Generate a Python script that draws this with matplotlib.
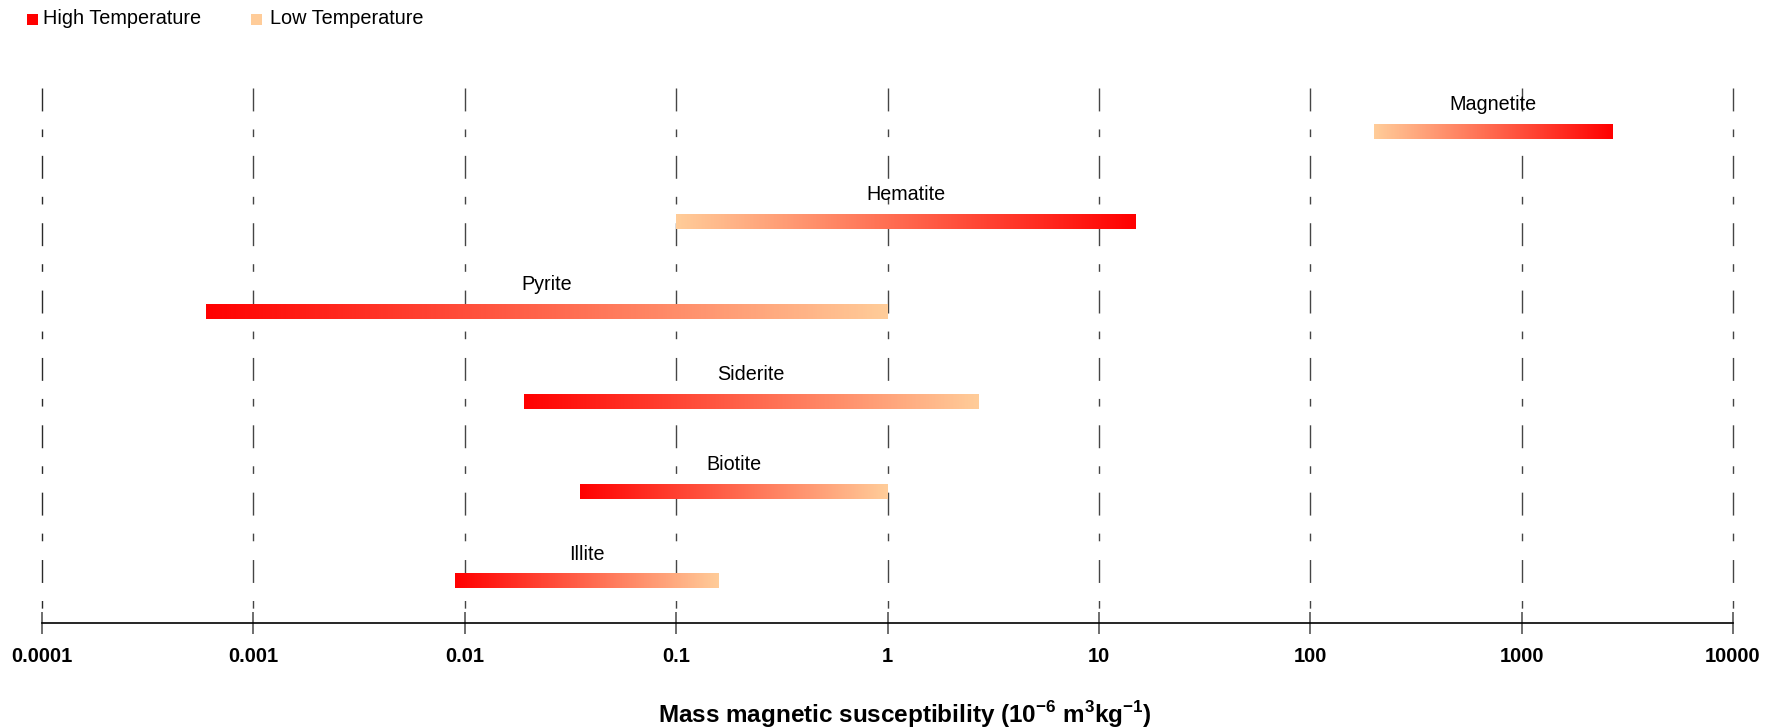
import numpy as np
import matplotlib
matplotlib.use("Agg")
import matplotlib.pyplot as plt
from matplotlib.colors import to_rgb
from matplotlib.patches import Rectangle

plt.rcParams['font.family'] = ['Liberation Sans', 'DejaVu Sans']
plt.rcParams['mathtext.fontset'] = 'custom'
plt.rcParams['mathtext.rm'] = 'Liberation Sans'
plt.rcParams['mathtext.bf'] = 'Liberation Sans:bold'

# Susceptibility ranges of common minerals (10^-6 m^3 kg^-1)
minerals = ['Illite', 'Biotite', 'Siderite', 'Pyrite', 'Hematite', 'Magnetite']
chi_min = [0.009, 0.035, 0.019, 0.0006, 0.1, 200]
chi_max = [0.16, 1.0, 2.7, 1.0, 15, 2700]
# True when the high-temperature end of the range sits at the larger value
hot_at_max = [False, False, False, False, True, True]

decades = [1e-4, 1e-3, 1e-2, 1e-1, 1, 10, 100, 1000, 10000]
decade_labels = ['0.0001', '0.001', '0.01', '0.1', '1', '10', '100', '1000', '10000']

HOT = '#FF0000'
COLD = '#FFCC99'

W, H = 1778, 728
fig = plt.figure(figsize=(W / 100, H / 100), dpi=100)
ax = fig.add_axes([42 / W, (H - 623) / H, (1733 - 42) / W, (623 - 88) / H])
ax.set_xscale('log')
ax.set_xlim(1e-4, 1e4)
ax.set_ylim(-0.467, 5.48)

# dash-dot decade gridlines, drawn from the top down
dash = (0, (16.5, 13, 5.5, 13.5))
for i, d in enumerate(decades):
    col = '#2a2a2a' if i == 0 else '#454545'
    ax.plot([d, d], [5.48, -0.467], color=col, lw=1.0, ls=dash, zorder=1,
            solid_capstyle='butt', dash_capstyle='butt', clip_on=False)

hot_rgb = np.array(to_rgb(HOT))
cold_rgb = np.array(to_rgb(COLD))
n_seg = 300
bar_h = 0.167
for yi, (name, lo, hi, hot_hi) in enumerate(zip(minerals, chi_min, chi_max, hot_at_max)):
    edges = np.logspace(np.log10(lo), np.log10(hi), n_seg + 1)
    t = np.linspace(0, 1, n_seg)[:, None]
    if hot_hi:
        cols = cold_rgb * (1 - t) + hot_rgb * t
    else:
        cols = hot_rgb * (1 - t) + cold_rgb * t
    ax.barh(np.full(n_seg, yi), np.diff(edges), left=edges[:-1], height=bar_h,
            color=cols, linewidth=0, antialiased=False, zorder=3)
    xc = np.sqrt(lo * hi)
    ax.text(xc, yi + 0.295, name, ha='center', va='center', fontsize=14.2,
            color='#000000', zorder=4)

for s in ['left', 'right', 'top']:
    ax.spines[s].set_visible(False)
ax.spines['bottom'].set_color('#000000')
ax.spines['bottom'].set_linewidth(1.2)
ax.set_yticks([])
ax.set_xticks(decades)
ax.set_xticklabels(decade_labels, fontsize=14.5, fontweight='bold')
ax.xaxis.set_minor_locator(matplotlib.ticker.NullLocator())
ax.tick_params(axis='x', direction='inout', length=16, width=1.2, color='#555555', pad=9)
ax.set_xlabel(r'Mass magnetic susceptibility (10$^{\mathbf{-6}}$ m$^{\mathbf{3}}$kg$^{\mathbf{-1}}$)',
              fontsize=17.5, fontweight='bold')
ax.xaxis.set_label_coords(0.51, -0.142)

# legend drawn in figure pixel coordinates
sq = 11
for x0, c, label, tx in [(27, HOT, 'High Temperature', 43), (251, COLD, 'Low Temperature', 270)]:
    fig.patches.append(Rectangle((x0 / W, (H - 19 - sq / 2) / H), sq / W, sq / H,
                                 transform=fig.transFigure, facecolor=c, edgecolor='none'))
    fig.text(tx / W, (H - 19) / H, label, ha='left', va='center', fontsize=14.3)

fig.savefig('out.png', dpi=100)
